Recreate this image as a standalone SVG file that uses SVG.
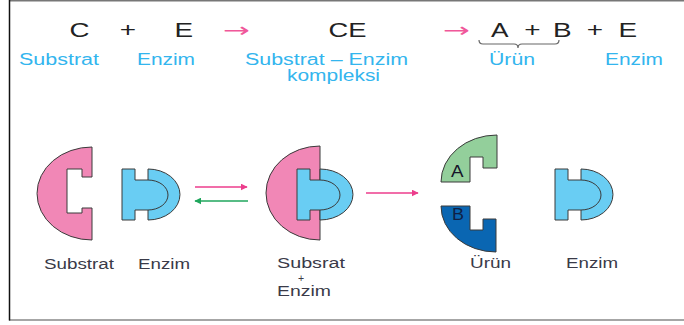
<svg xmlns="http://www.w3.org/2000/svg" width="684" height="325" viewBox="0 0 684 325">
  <style>
    .sym { font-family: "Liberation Sans", Arial, sans-serif; font-size: 21px; fill: #222; }
    .lbl { font-family: "Liberation Sans", Arial, sans-serif; font-size: 16px; fill: #33B5EE; }
    .cap { font-family: "Liberation Sans", Arial, sans-serif; font-size: 14px; fill: #3a3a48; }
    .tag { font-family: "Liberation Sans", Arial, sans-serif; font-size: 16px; }
    .arr { font-family: "DejaVu Sans", sans-serif; font-size: 20px; fill: #F0589A; }
    .piece { stroke: #3a3a3a; stroke-width: 1; stroke-linejoin: miter; }
    .pink { fill: #F187B6; }
    .blue { fill: #69CDF3; }
    .green { fill: #93CF9B; }
    .dark { fill: #0A66B2; }
    .seam { fill: none; stroke: #3a3a3a; stroke-width: 1; }
    .conn { fill: none; stroke-width: 1.4; }
  </style>
  <defs>
    <marker id="headPink" viewBox="0 0 10 10" refX="9" refY="5" markerWidth="7" markerHeight="7" markerUnits="userSpaceOnUse" orient="auto">
      <path d="M0,0 L10,5 L0,10 Z" fill="#EC3D8C"/>
    </marker>
    <marker id="headGreen" viewBox="0 0 10 10" refX="9" refY="5" markerWidth="7" markerHeight="7" markerUnits="userSpaceOnUse" orient="auto">
      <path d="M0,0 L10,5 L0,10 Z" fill="#1FA65C"/>
    </marker>
  </defs>

  <!-- frame -->
  <g id="frame" fill="none">
    <line x1="9" y1="0.75" x2="684" y2="0.75" stroke="#777" stroke-width="1.5"/>
    <line x1="9" y1="320" x2="684" y2="320" stroke="#888" stroke-width="1.5"/>
    <line x1="9.5" y1="0" x2="9.5" y2="320.5" stroke="#111" stroke-width="1.5"/>
  </g>

  <!-- reaction equation -->
  <g id="equation">
    <text class="sym" x="69.6" y="36.5" textLength="20" lengthAdjust="spacingAndGlyphs">C</text>
    <text class="sym" x="119.7" y="36.5" textLength="16.3" lengthAdjust="spacingAndGlyphs">+</text>
    <text class="sym" x="174.5" y="36.5" textLength="18.6" lengthAdjust="spacingAndGlyphs">E</text>
    <text class="arr" x="223" y="37" textLength="27" lengthAdjust="spacingAndGlyphs">→</text>
    <text class="sym" x="328.6" y="36.5" textLength="38" lengthAdjust="spacingAndGlyphs">CE</text>
    <text class="arr" x="443" y="37" textLength="27" lengthAdjust="spacingAndGlyphs">→</text>
    <text class="sym" x="491" y="36.5" textLength="17.5" lengthAdjust="spacingAndGlyphs">A</text>
    <text class="sym" x="524.3" y="36.5" textLength="16.3" lengthAdjust="spacingAndGlyphs">+</text>
    <text class="sym" x="553" y="36.5" textLength="18.6" lengthAdjust="spacingAndGlyphs">B</text>
    <text class="sym" x="586.7" y="36.5" textLength="16.3" lengthAdjust="spacingAndGlyphs">+</text>
    <text class="sym" x="618.5" y="36.5" textLength="18.6" lengthAdjust="spacingAndGlyphs">E</text>
    <!-- brace under A + B -->
    <path d="M479,40 Q479,44 483,44 L514,44 Q518,44 518,48 Q518,44 522,44 L555,44 Q559,44 559,40" fill="none" stroke="#666" stroke-width="1.2"/>
    <text class="lbl" x="19" y="65" textLength="80" lengthAdjust="spacingAndGlyphs">Substrat</text>
    <text class="lbl" x="137" y="65" textLength="58" lengthAdjust="spacingAndGlyphs">Enzim</text>
    <text class="lbl" x="245" y="65" textLength="163" lengthAdjust="spacingAndGlyphs">Substrat – Enzim</text>
    <text class="lbl" x="287" y="81" textLength="93" lengthAdjust="spacingAndGlyphs">kompleksi</text>
    <text class="lbl" x="489" y="65" textLength="46" lengthAdjust="spacingAndGlyphs">Ürün</text>
    <text class="lbl" x="605" y="65" textLength="58" lengthAdjust="spacingAndGlyphs">Enzim</text>
  </g>

  <!-- substrate -->
  <g id="substrat">
    <path class="piece pink" d="M92,147 A55,46.5 0 0 0 92,240 V208 H82 V213 H67 V169 H82 V177 H92 Z"/>
    <text class="cap" x="44" y="269" textLength="70" lengthAdjust="spacingAndGlyphs">Substrat</text>
  </g>

  <!-- free enzyme -->
  <g id="enzim-1">
    <path class="piece blue" d="M122,169 H135 V180 H148 V169 A32,25.5 0 0 1 148,220 V210 H135 V220 H122 Z"/>
    <path class="seam" d="M148,180 A20,15 0 0 1 148,210"/>
    <text class="cap" x="138" y="269" textLength="52" lengthAdjust="spacingAndGlyphs">Enzim</text>
  </g>

  <!-- enzyme-substrate complex -->
  <g id="kompleks">
    <path class="piece pink" d="M320,146 A54,47 0 0 0 320,240 Z"/>
    <path class="piece blue" d="M297,169 H310 V180 H320 V169 A33,25.5 0 0 1 320,220 V210 H310 V220 H297 Z"/>
    <path class="seam" d="M320,180 A20,15 0 0 1 320,210"/>
    <text class="cap" x="277" y="268" textLength="68" lengthAdjust="spacingAndGlyphs">Subsrat</text>
    <text class="cap" x="301" y="282" text-anchor="middle" style="font-size:10.5px">+</text>
    <text class="cap" x="277" y="296" textLength="54" lengthAdjust="spacingAndGlyphs">Enzim</text>
  </g>

  <!-- products -->
  <g id="urun-a">
    <path class="piece green" d="M497,135 A56,47 0 0 0 441,182 H470 V157 H483 V168 H497 Z"/>
    <text class="tag" x="451" y="177" style="fill:#15152a" textLength="12.5" lengthAdjust="spacingAndGlyphs">A</text>
  </g>
  <g id="urun-b">
    <path class="piece dark" d="M441,206 H470 V230 H483 V219 H496 V252 A55,46 0 0 1 441,206 Z"/>
    <text class="tag" x="452" y="220" style="fill:#0f1f45" textLength="12" lengthAdjust="spacingAndGlyphs">B</text>
    <text class="cap" x="470" y="268" textLength="41" lengthAdjust="spacingAndGlyphs">Ürün</text>
  </g>

  <!-- released enzyme -->
  <g id="enzim-2">
    <path class="piece blue" d="M555,169 H568 V180 H581 V169 A32,25.5 0 0 1 581,220 V210 H568 V220 H555 Z"/>
    <path class="seam" d="M581,180 A20,15 0 0 1 581,210"/>
    <text class="cap" x="566" y="268" textLength="52" lengthAdjust="spacingAndGlyphs">Enzim</text>
  </g>

  <!-- reaction arrows -->
  <g id="connectors">
    <line class="conn" x1="195" y1="187" x2="247" y2="187" stroke="#EC3D8C" marker-end="url(#headPink)"/>
    <line class="conn" x1="248" y1="201" x2="195" y2="201" stroke="#1FA65C" marker-end="url(#headGreen)"/>
    <line class="conn" x1="366" y1="193" x2="418" y2="193" stroke="#EC3D8C" marker-end="url(#headPink)"/>
  </g>
</svg>
